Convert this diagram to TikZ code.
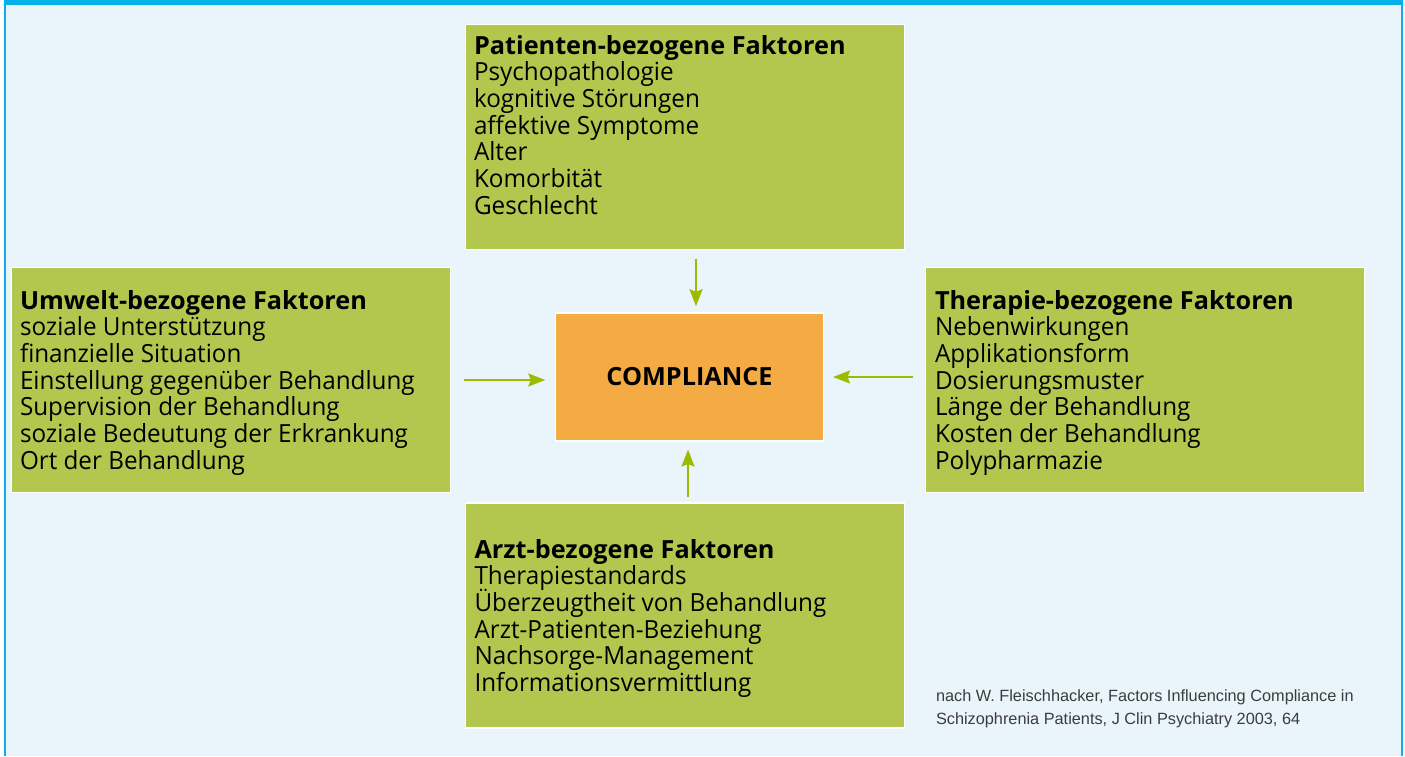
\documentclass[tikz,border=0pt]{standalone}
\usepackage{fontspec}
\setmainfont{Open Sans}[FakeStretch=0.97, BoldFeatures={FakeStretch=1.01}]
\newfontfamily\citefont{Liberation Sans}
\usetikzlibrary{arrows.meta,calc}

\definecolor{panelbg}{HTML}{EAF5FB}
\definecolor{framebar}{HTML}{00B2E7}
\definecolor{frameside}{HTML}{12AAE8}
\definecolor{boxgreen}{HTML}{B3C74F}
\definecolor{boxorange}{HTML}{F5AB43}
\definecolor{arrowgreen}{HTML}{9CBB00}
\definecolor{citegray}{HTML}{3C3C3C}

% lines may sit closer than their glyph boxes allow
\newcommand{\tightlines}{\lineskiplimit=-40pt\relax\lineskip=0pt\relax}
\newcommand{\firstline}{\rule{0pt}{20pt}}
\newcommand{\citestrut}{\rule{0pt}{12pt}}
\newcommand{\factorfont}{\fontsize{25}{26.67}\selectfont\tightlines}
\newcommand{\notefont}{\citefont\fontsize{16.3}{22.6}\selectfont\tightlines}

\tikzset{
  factorbox/.style={draw=white, line width=1.6pt, fill=boxgreen,
    minimum width=439pt, minimum height=225pt, inner sep=0pt, outer sep=0pt,
    anchor=north west},
  centerbox/.style={draw=white, line width=1.6pt, fill=boxorange,
    minimum width=268pt, minimum height=127.5pt, inner sep=0pt, outer sep=0pt,
    font=\fontsize{25}{28}\selectfont\bfseries},
  factortext/.style={anchor=north west, inner sep=0pt, outer sep=0pt, align=left,
    font=\factorfont},
  citetext/.style={anchor=north west, inner sep=0pt, outer sep=0pt, align=left,
    text=citegray, font=\notefont},
  arrowline/.style={draw=arrowgreen, line width=2pt,
    -{Stealth[length=17pt,width=13pt,inset=2.5pt]}},
}

\begin{document}
\begin{tikzpicture}[x=1pt,y=-1pt]
  \useasboundingbox (0,0) rectangle (1405,756);
  % panel background and frame
  \fill[white] (0,0) rectangle (1405,756);
  \fill[panelbg] (5,0) rectangle (1402,756);
  \draw[frameside, line width=2pt] (5,0) -- (5,756);
  \draw[frameside, line width=2pt] (1402,0) -- (1402,756);
  \fill[framebar] (4,0) rectangle (1403,5);

  % factor boxes
  \node[factorbox] (pat)  at (465.5,24.5)  {};
  \node[factorbox] (umw)  at (11.5,267.5)  {};
  \node[factorbox] (ther) at (925.5,267.5) {};
  \node[factorbox] (arzt) at (465.5,503)   {};

  % central box
  \node[centerbox] (comp) at (689.5,377) {COMPLIANCE};

  % texts of the factor boxes
  \node[factortext] (patT) at ($(pat.north west)+(8.5,9.5)$)
    {\firstline\textbf{Patienten-bezogene Faktoren}\\
     Psychopathologie\\
     kognitive Störungen\\
     affektive Symptome\\
     Alter\\
     Komorbität\\
     Geschlecht};
  \node[factortext] (umwT) at ($(umw.north west)+(8.5,21.5)$)
    {\firstline\textbf{Umwelt-bezogene Faktoren}\\
     soziale Unterstützung\\
     finanzielle Situation\\
     Einstellung gegenüber Behandlung\\
     Supervision der Behandlung\\
     soziale Bedeutung der Erkrankung\\
     Ort der Behandlung};
  \node[factortext] (therT) at ($(ther.north west)+(9.5,21.5)$)
    {\firstline\textbf{Therapie-bezogene Faktoren}\\
     Nebenwirkungen\\
     Applikationsform\\
     Dosierungsmuster\\
     Länge der Behandlung\\
     Kosten der Behandlung\\
     Polypharmazie};
  \node[factortext] (arztT) at ($(arzt.north west)+(9,35.3)$)
    {\firstline\textbf{Arzt-bezogene Faktoren}\\
     Therapiestandards\\
     Überzeugtheit von Behandlung\\
     Arzt-Patienten-Beziehung\\
     Nachsorge-Management\\
     Informationsvermittlung};

  % source note
  \node[citetext] (cite) at (936,689.7)
    {\citestrut nach W. Fleischhacker, Factors Influencing Compliance in\\
     Schizophrenia Patients, J Clin Psychiatry 2003, 64};

  % arrows towards the central box
  \draw[arrowline, shorten <=9pt, shorten >=7pt]
    ([xshift=11pt]pat.south) -- ([xshift=6.5pt]comp.north);
  \draw[arrowline, shorten <=13.5pt, shorten >=10.2pt]
    (umw.east) -- ([yshift=-3pt]comp.west);
  \draw[arrowline, shorten <=12.5pt, shorten >=9.5pt]
    ([yshift=3pt]ther.west) -- (comp.east);
  \draw[arrowline, shorten <=6.3pt, shorten >=8.8pt]
    ([xshift=3pt]arzt.north) -- ([xshift=-1.5pt]comp.south);
\end{tikzpicture}
\end{document}
